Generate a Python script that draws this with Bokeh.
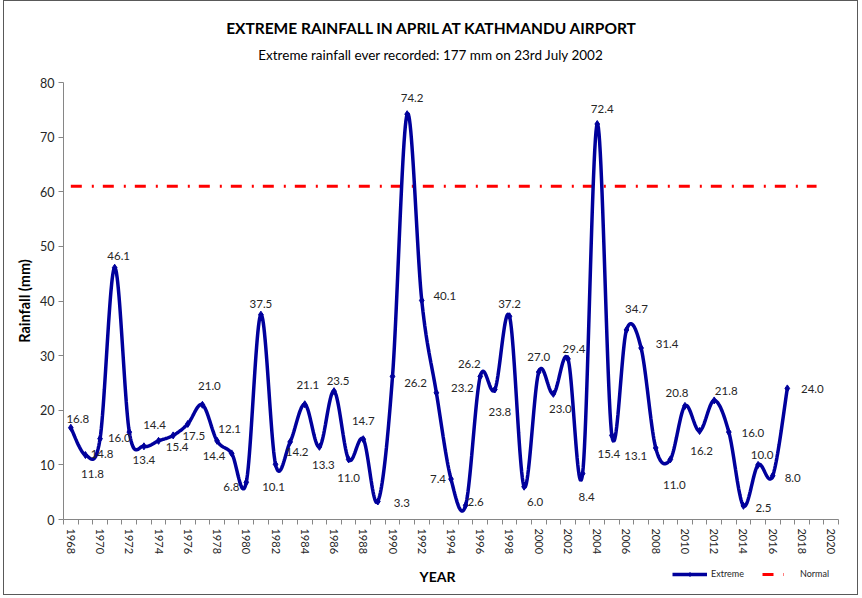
import numpy as np
from bokeh.plotting import figure
from bokeh.models import (Range1d, FixedTicker, Label, Legend, LegendItem,
                          ColumnDataSource)
from bokeh.core.properties import value
from bokeh.embed import file_html
from bokeh.resources import INLINE

# ---------------- data ----------------
years = list(range(1968, 2018))
extreme = [16.8, 11.8, 14.8, 46.1, 16.0, 13.4, 14.4, 15.4, 17.5, 21.0,
           14.4, 12.1, 6.8, 37.5, 10.1, 14.2, 21.1, 13.3, 23.5, 11.0,
           14.7, 3.3, 26.2, 74.2, 40.1, 23.2, 7.4, 2.6, 26.2, 23.8,
           37.2, 6.0, 27.0, 23.0, 29.4, 8.4, 72.4, 15.4, 34.7, 31.4,
           13.1, 11.0, 20.8, 16.2, 21.8, 16.0, 2.5, 10.0, 8.0, 24.0]
normal_years = list(range(1968, 2020))
normal = [61.0] * len(normal_years)
tick_years = list(range(1968, 2021, 2))
y_ticks = list(range(0, 81, 10))

title = "EXTREME RAINFALL IN APRIL AT KATHMANDU AIRPORT"
subtitle = "Extreme rainfall ever recorded: 177 mm on 23rd July 2002"
x_title = "YEAR"
y_title = "Rainfall (mm)"

# label placement (pixel offsets: dx right, dy down)
lab_dx = [7, 7, 2, 4, -10, 0, -4, 4, 6, 7,
          -3, -2, -15, 0, -2, 7, 3, 4, 4, 0,
          0, 24, 23, 5, 23, 26, -13, 10, -11, 5,
          0, 11, 0, 7, 6, 4, 5, -3, 10, 26,
          -20, 4, -8, 2, 12, 24, 20, 4, 20, 25]
lab_dy = [-9, 19, 15, -12, 6, 14, -16, 12, 12, -19,
          15, -24, 5, -11, 23, 10, -19, 18, -10, 19,
          -18, 2, 7, -16, -4, -5, 0, -3, -12, 23,
          -12, 15, -15, 15, -10, 23, -15, 19, -21, -4,
          8, 26, -13, 20, -9, 1, 2, -10, 2, 1]

FONT = "Lato"
NAVY = "#00009C"
TXT = "#262626"

# ---------------- layout geometry (page pixels) ----------------
W, H = 855, 595          # canvas size
OX, OY = 4, 1            # canvas origin on page
X0, X1 = 1967.5, 2020.5  # category band edges
FL, FR = 63, 838         # page x of X0, X1
FT, FB = 82, 519         # page y of 80 and 0
XS = (FR - FL) / (X1 - X0)
YS = (FB - FT) / 80.0


def px2x(px):
    return X0 + (px - FL) / XS


def py2y(py):
    return (FB - py) / YS


def smooth(xs, ys, n=24):
    pts = np.column_stack([np.asarray(xs, float), np.asarray(ys, float)])
    P = np.vstack([pts[0], pts, pts[-1]])
    out = []
    for i in range(1, len(P) - 2):
        p0, p1, p2, p3 = P[i - 1], P[i], P[i + 1], P[i + 2]
        c1 = p1 + (p2 - p0) / 6.0
        c2 = p2 - (p3 - p1) / 6.0
        t = np.linspace(0, 1, n, endpoint=(i == len(P) - 3))[:, None]
        b = ((1 - t) ** 3) * p1 + 3 * ((1 - t) ** 2) * t * c1 \
            + 3 * (1 - t) * t ** 2 * c2 + t ** 3 * p2
        out.append(b)
    out = np.vstack(out)
    return out[:, 0], out[:, 1]


p = figure(width=W, height=H,
           x_range=Range1d(px2x(OX), px2x(OX + W)),
           y_range=Range1d(py2y(OY + H), py2y(OY)),
           output_backend="svg", toolbar_location=None,
           min_border_left=0, min_border_right=0,
           min_border_top=0, min_border_bottom=0)
p.title.visible = False
p.styles = {"border": "1px solid #595959", "margin-left": "3px"}
p.outline_line_color = None
p.xgrid.visible = False
p.ygrid.visible = False
p.background_fill_color = "white"
p.border_fill_color = "white"

# axes
xa = p.xaxis[0]
xa.fixed_location = 0
xa.bounds = (X0, X1)
xa.ticker = FixedTicker(ticks=tick_years,
                        minor_ticks=[y - 0.5 for y in range(1968, 2022)])
xa.major_tick_out = 0
xa.major_tick_in = 0
xa.minor_tick_out = 5
xa.minor_tick_in = 0
xa.minor_tick_line_color = "#868686"
xa.axis_line_color = "#868686"
xa.major_label_orientation = "vertical"
xa.major_label_text_font = FONT
xa.major_label_text_font_size = "11px"
xa.major_label_text_color = TXT
xa.major_label_standoff = 4

ya = p.yaxis[0]
ya.fixed_location = X0
ya.bounds = (0, 80)
ya.ticker = FixedTicker(ticks=y_ticks, minor_ticks=[])
ya.major_tick_out = 5
ya.major_tick_in = 0
ya.major_tick_line_color = "#868686"
ya.axis_line_color = "#868686"
ya.major_label_text_font = FONT
ya.major_label_text_font_size = "12.5px"
ya.major_label_text_color = TXT
ya.major_label_standoff = 4
ya.axis_label = y_title
ya.axis_label_text_font = FONT
ya.axis_label_text_font_size = "14.5px"
ya.axis_label_text_font_style = "bold"
ya.axis_label_text_color = "black"
ya.axis_label_standoff = 4

# normal line
normal_r = p.line(normal_years, normal, line_color="#FF0000", line_width=3,
                  line_dash="11 10 2 9")

# extreme curve
sx, sy = smooth(years, extreme)
curve_r = p.line(sx, sy, line_color=NAVY, line_width=3.5)
mark_r = p.scatter(years, extreme, marker="diamond", size=7,
                   fill_color=NAVY, line_color=NAVY)

src = ColumnDataSource(dict(x=years, y=extreme,
                            t=[f"{v:.1f}" for v in extreme],
                            dx=lab_dx, dy=lab_dy))
p.text(x="x", y="y", text="t", x_offset="dx", y_offset="dy", source=src,
       text_font=value(FONT), text_font_size="11.5px", text_color=TXT,
       text_align="center", text_baseline="middle")

# titles
p.add_layout(Label(x=px2x(432), y=py2y(27), text=title, text_font=FONT,
                   text_font_size="15.5px", text_font_style="bold",
                   text_color="black", text_align="center",
                   text_baseline="middle"))
p.add_layout(Label(x=px2x(430.5), y=py2y(54), text=subtitle, text_font=FONT,
                   text_font_size="13.5px", text_color="black",
                   text_align="center", text_baseline="middle"))
p.add_layout(Label(x=px2x(437), y=py2y(576), text=x_title, text_font=FONT,
                   text_font_size="14px", text_font_style="bold",
                   text_color="black", text_align="center",
                   text_baseline="middle"))

# legends
leg_bottom = (OY + H) - 579
common = dict(orientation="horizontal", padding=0, margin=0, spacing=0,
              border_line_color=None, background_fill_alpha=0,
              label_text_font=FONT, label_text_font_size="9px",
              label_text_color=TXT, glyph_height=10, label_height=10)
leg1 = Legend(items=[LegendItem(label="Extreme",
                                renderers=[curve_r, mark_r])],
              location=(672 - OX, leg_bottom), glyph_width=35,
              label_standoff=4, **common)
leg2 = Legend(items=[LegendItem(label="Normal", renderers=[normal_r])],
              location=(762 - OX, leg_bottom), glyph_width=22,
              label_standoff=16, **common)
p.add_layout(leg1)
p.add_layout(leg2)

open("out.html", "w").write(file_html(p, INLINE))
